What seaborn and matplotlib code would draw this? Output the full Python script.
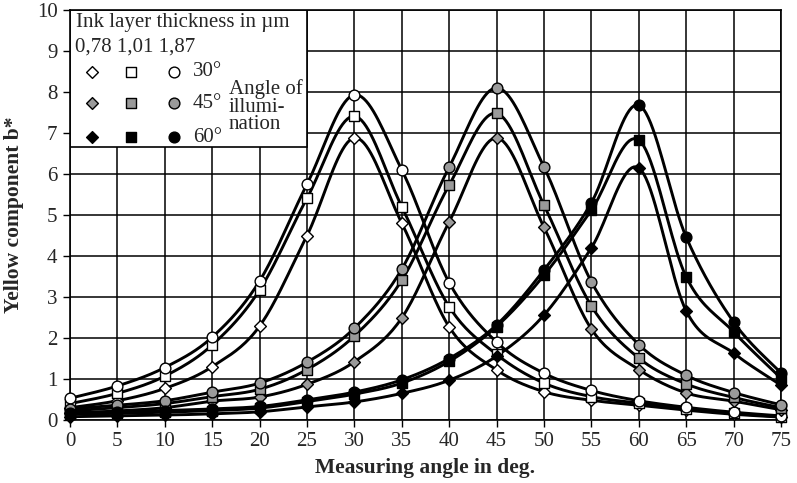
import numpy as np
import pandas as pd
import matplotlib
matplotlib.use("Agg")
import matplotlib.pyplot as plt
import seaborn as sns

# ---------------- data ----------------
angles = [0, 5, 10, 15, 20, 25, 30, 35, 40, 45, 50, 55, 60, 65, 70, 75]
thickness_labels = ["0,78", "1,01", "1,87"]
illum_labels = ["30°", "45°", "60°"]

b30_078 = [0.30, 0.47, 0.77, 1.30, 2.29, 4.50, 6.88, 4.80, 2.27, 1.22, 0.69, 0.48, 0.36, 0.24, 0.14, 0.07]
b30_101 = [0.40, 0.65, 1.07, 1.83, 3.17, 5.41, 7.41, 5.20, 2.76, 1.60, 0.90, 0.57, 0.41, 0.27, 0.16, 0.08]
b30_187 = [0.53, 0.83, 1.28, 2.02, 3.39, 5.75, 7.93, 6.10, 3.35, 1.90, 1.14, 0.72, 0.47, 0.31, 0.19, 0.10]

b45_078 = [0.16, 0.22, 0.30, 0.46, 0.56, 0.87, 1.42, 2.49, 4.83, 6.88, 4.70, 2.22, 1.23, 0.66, 0.46, 0.25]
b45_101 = [0.22, 0.30, 0.40, 0.57, 0.75, 1.23, 2.05, 3.41, 5.73, 7.48, 5.24, 2.78, 1.51, 0.88, 0.55, 0.30]
b45_187 = [0.27, 0.36, 0.47, 0.68, 0.90, 1.41, 2.24, 3.68, 6.17, 8.10, 6.17, 3.37, 1.84, 1.09, 0.67, 0.37]

b60_078 = [0.08, 0.10, 0.12, 0.15, 0.20, 0.32, 0.44, 0.65, 0.97, 1.56, 2.56, 4.20, 6.15, 2.66, 1.63, 0.85]
b60_101 = [0.14, 0.16, 0.19, 0.23, 0.29, 0.45, 0.63, 0.90, 1.43, 2.28, 3.53, 5.12, 6.83, 3.49, 2.15, 1.02]
b60_187 = [0.18, 0.20, 0.23, 0.27, 0.33, 0.49, 0.68, 0.98, 1.50, 2.32, 3.66, 5.30, 7.68, 4.46, 2.39, 1.15]

series = {
    ("30°", "0,78"): b30_078, ("30°", "1,01"): b30_101, ("30°", "1,87"): b30_187,
    ("45°", "0,78"): b45_078, ("45°", "1,01"): b45_101, ("45°", "1,87"): b45_187,
    ("60°", "0,78"): b60_078, ("60°", "1,01"): b60_101, ("60°", "1,87"): b60_187,
}

# ---------------- style ----------------
sns.set_theme(style="white")
plt.rcParams["font.family"] = ["Liberation Serif", "DejaVu Serif"]

marker_of = {"0,78": "D", "1,01": "s", "1,87": "o"}
size_of = {"0,78": 36, "1,01": 46, "1,87": 60}
face_of = {"30°": "white", "45°": "#9a9a9a", "60°": "black"}


def smooth(x, y, n=20):
    """Excel-like smoothed line (Catmull-Rom Bezier) through the points."""
    P = np.column_stack([x, y]).astype(float)
    pts = [P[0]]
    for i in range(len(P) - 1):
        p0 = P[i - 1] if i > 0 else P[i]
        p1, p2 = P[i], P[i + 1]
        p3 = P[i + 2] if i + 2 < len(P) else P[i + 1]
        c1 = p1 + (p2 - p0) / 6.0
        c2 = p2 - (p3 - p1) / 6.0
        t = np.linspace(0, 1, n + 1)[1:, None]
        seg = ((1 - t) ** 3) * p1 + 3 * ((1 - t) ** 2) * t * c1 + 3 * (1 - t) * t ** 2 * c2 + t ** 3 * p2
        pts.extend(seg)
    pts = np.array(pts)
    return pts[:, 0], pts[:, 1]


fig = plt.figure(figsize=(7.97, 4.83), dpi=100)
ax = fig.add_axes([70 / 797, 63 / 483, 711 / 797, 410 / 483])

rows = []
for (ill, th), vals in series.items():
    sx, sy = smooth(angles, vals)
    for a, b in zip(sx, sy):
        rows.append({"angle": a, "b": b, "curve": ill + th})
curves = pd.DataFrame(rows)
sns.lineplot(data=curves, x="angle", y="b", units="curve", estimator=None,
             color="black", linewidth=2.1, sort=False, ax=ax, zorder=3)

for (ill, th), vals in series.items():
    pts = pd.DataFrame({"angle": angles, "b": vals})
    sns.scatterplot(data=pts, x="angle", y="b", marker=marker_of[th], s=size_of[th],
                    color=face_of[ill], edgecolor="black", linewidth=1.0,
                    ax=ax, zorder=4, clip_on=False)

ax.set_xlim(0, 75)
ax.set_ylim(0, 10)
ax.set_xticks(angles)
ax.set_yticks(range(0, 11))
ax.grid(True, color="black", linewidth=1.1)
ax.set_axisbelow(True)
for s in ax.spines.values():
    s.set_color("black")
    s.set_linewidth(1.2)
ax.tick_params(axis="both", direction="out", length=5, width=1, color="black",
               labelsize=15, pad=4, bottom=True, left=True)
ax.set_xlabel("Measuring angle in deg.", fontsize=15.5, fontweight="bold", labelpad=5)
ax.set_ylabel("Yellow component b*", fontsize=15.5, fontweight="bold", labelpad=9)

# ---------------- legend panel ----------------
def ax_x(px):
    return (px - 70) / 711


def ax_y(py):
    return (420 - py) / 410


box = plt.Rectangle((0, ax_y(147)), ax_x(307), 1 - ax_y(147), transform=ax.transAxes,
                    facecolor="white", edgecolor="black", linewidth=1.2, zorder=2.5)
ax.add_patch(box)
ax.text(ax_x(76), ax_y(22), "Ink layer thickness in µm", transform=ax.transAxes,
        fontsize=15, va="center", ha="left", zorder=5)
ax.text(ax_x(75), ax_y(47), " ".join(thickness_labels), transform=ax.transAxes,
        fontsize=15, va="center", ha="left", zorder=5)
row_y = {"30°": 72, "45°": 103, "60°": 137}
col_x = {"0,78": 92, "1,01": 131, "1,87": 174}
for ill in illum_labels:
    for th in thickness_labels:
        ax.scatter([ax_x(col_x[th])], [ax_y(row_y[ill])], transform=ax.transAxes,
                   marker=marker_of[th], s=size_of[th], facecolor=face_of[ill],
                   edgecolor="black", linewidth=1.0, zorder=5, clip_on=False)
    ax.text(ax_x(193), ax_y(row_y[ill]), ill, transform=ax.transAxes,
            fontsize=15, va="center", ha="left", zorder=5)
ax.text(ax_x(229), ax_y(79), "Angle of\nillumi-\nnation", transform=ax.transAxes,
        fontsize=15, va="top", ha="left", linespacing=0.9, zorder=5)

fig.savefig("out.png", dpi=100)
